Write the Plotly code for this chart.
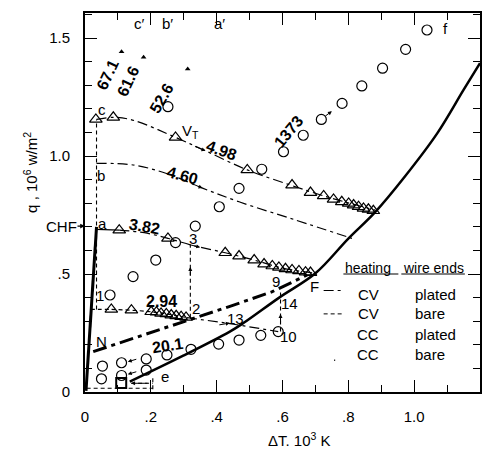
import plotly.graph_objects as go

# ---------------- data (x = dT in 10^3 K, q in 10^6 W/m^2) ----------------
circ_x = [0.537, 0.603, 0.663, 0.718, 0.781, 0.841, 0.904, 0.974, 1.039,
          0.146, 0.215, 0.275, 0.335, 0.408, 0.468, 0.252, 0.076,
          0.050, 0.053, 0.111, 0.111, 0.186, 0.186, 0.249, 0.322, 0.406,
          0.468, 0.534, 0.587]
circ_q = [0.944, 1.018, 1.088, 1.155, 1.223, 1.297, 1.372, 1.452, 1.534,
          0.489, 0.559, 0.633, 0.703, 0.785, 0.863, 1.209, 0.411,
          0.056, 0.110, 0.070, 0.124, 0.093, 0.140, 0.157, 0.181, 0.203,
          0.220, 0.240, 0.256]

tri_c_x = [0.033, 0.086, 0.275, 0.493, 0.629, 0.685, 0.725, 0.755, 0.780,
           0.801, 0.816, 0.831, 0.846, 0.861, 0.876]
tri_c_q = [1.155, 1.164, 1.079, 0.941, 0.877, 0.845, 0.831, 0.816, 0.806,
           0.799, 0.792, 0.785, 0.778, 0.774, 0.768]
tri_a_x = [0.104, 0.252, 0.426, 0.468, 0.514, 0.544, 0.569, 0.589, 0.609,
           0.629, 0.650, 0.670, 0.685]
tri_a_q = [0.686, 0.651, 0.590, 0.576, 0.559, 0.542, 0.534, 0.528, 0.522,
           0.517, 0.513, 0.508, 0.506]
tri_1_x = [0.080, 0.141, 0.201, 0.217, 0.231, 0.247, 0.262, 0.277, 0.292, 0.307]
tri_1_q = [0.350, 0.347, 0.340, 0.338, 0.333, 0.331, 0.326, 0.323, 0.319, 0.316]

small_tri_x = [0.111, 0.178, 0.312]
small_tri_q = [1.442, 1.418, 1.369]

curve_c_x = [0.035, 0.09, 0.15, 0.275, 0.366, 0.493, 0.624, 0.725, 0.881]
curve_c_q = [1.155, 1.164, 1.15, 1.079, 1.022, 0.941, 0.877, 0.831, 0.771]
curve_b_x = [0.035, 0.146, 0.25, 0.357, 0.468, 0.639, 0.811]
curve_b_q = [0.969, 0.962, 0.925, 0.864, 0.806, 0.729, 0.651]
curve_a_x = [0.104, 0.18, 0.252, 0.33, 0.426, 0.514, 0.6, 0.69]
curve_a_q = [0.686, 0.675, 0.651, 0.62, 0.590, 0.559, 0.525, 0.505]
seg_a_x = [0.035, 0.104]
seg_a_q = [0.689, 0.686]
curve_1_x = [0.017, 0.08, 0.2, 0.31]
curve_1_q = [0.350, 0.350, 0.340, 0.315]
curve_2_10_x = [0.31, 0.44, 0.587]
curve_2_10_q = [0.315, 0.29, 0.256]
nf_x = [0.025, 0.317, 0.438, 0.569, 0.675]
nf_q = [0.171, 0.305, 0.362, 0.425, 0.496]
film_x = [0.136, 0.30, 0.44, 0.48, 0.59, 0.70, 0.80, 0.88, 0.97, 1.07, 1.15, 1.2]
film_q = [0.044, 0.155, 0.256, 0.291, 0.40, 0.503, 0.65, 0.76, 0.91, 1.096, 1.28, 1.394]
wall_x = [0.003, 0.035]
wall_q = [0.005, 0.70]

vlines = [  # x, q0, q1
    (0.035, 0.35, 1.155),
    (0.32, 0.315, 0.625),
    (0.594, 0.256, 0.432),
    (0.206, 0.012, 0.068),
]
hlines = [  # q, x0, x1
    (0.016, 0.005, 0.206),
    (0.037, 0.14, 0.206),
]
box_x = [0.11]
box_q = [0.038]

FONT = "Liberation Sans, Arial, sans-serif"
K = "black"
fig = go.Figure()

def line(x, y, w=1.2, dash="solid", shape="linear"):
    fig.add_trace(go.Scatter(x=x, y=y, mode="lines", showlegend=False, hoverinfo="skip",
                             line=dict(color=K, width=w, dash=dash, shape=shape)))

CVP = "10px,4px,3px,4px"
DSH = "4px,3px"
line(curve_c_x, curve_c_q, 1.2, CVP, "spline")
line(curve_b_x, curve_b_q, 1.2, CVP, "spline")
line(curve_a_x, curve_a_q, 1.2, CVP, "spline")
line(seg_a_x, seg_a_q, 1.2)
line(curve_1_x, curve_1_q, 1.2, DSH, "spline")
line(curve_2_10_x, curve_2_10_q, 1.2, CVP)
line(nf_x, nf_q, 3, "14px,5px,4px,5px")
line(film_x, film_q, 2.5, "solid", "spline")
line(wall_x, wall_q, 3)
for vx, a, b in vlines:
    line([vx, vx], [a, b], 1.1, DSH)
for hq, a, b in hlines:
    line([a, b], [hq, hq], 1.1, DSH)

fig.add_trace(go.Scatter(x=circ_x, y=circ_q, mode="markers", showlegend=False,
                         marker=dict(symbol="circle-open", size=10, color=K, line=dict(width=1.2))))
for tx, tq in [(tri_c_x, tri_c_q), (tri_a_x, tri_a_q), (tri_1_x, tri_1_q)]:
    fig.add_trace(go.Scatter(x=tx, y=tq, mode="markers", showlegend=False,
                             marker=dict(symbol="triangle-up-open", size=11, color=K, line=dict(width=1.2))))
fig.add_trace(go.Scatter(x=small_tri_x, y=small_tri_q, mode="markers", showlegend=False,
                         marker=dict(symbol="triangle-up", size=5, color=K)))
fig.add_trace(go.Scatter(x=box_x, y=box_q, mode="markers", showlegend=False,
                         marker=dict(symbol="square-open", size=10, color=K, line=dict(width=2))))

ann = []
def txt(x, y, s, size=13, bold=False, angle=0, xanchor="center", ref="data"):
    d = dict(x=x, y=y, text=f"<b>{s}</b>" if bold else s, showarrow=False,
             textangle=angle, xanchor=xanchor,
             font=dict(family=FONT, size=size, color=K))
    if ref == "paper":
        d.update(xref="paper", yref="paper")
    ann.append(d)

for x, y, s in [(0.051, 1.195, "c"), (0.050, 0.919, "b"), (0.053, 0.715, "a"),
                (0.045, 0.411, "1"), (0.05, 0.213, "N"), (0.337, 0.355, "2"),
                (0.327, 0.651, "3"), (0.242, 0.065, "e"), (0.458, 0.312, "13"),
                (0.579, 0.467, "9"), (0.622, 0.376, "14"), (0.619, 0.237, "10"),
                (0.698, 0.446, "F"), (1.094, 1.542, "f"),
                (0.166, 1.56, "c\u2032"), (0.251, 1.56, "b\u2032"), (0.408, 1.56, "a\u2032"),
                (0.322, 1.103, "V<sub>T</sub>")]:
    txt(x, y, s, 15)

for x, y, s, a in [(0.067, 1.343, "67.1", -65), (0.131, 1.315, "61.6", -65),
                   (0.232, 1.244, "52.6", -60), (0.416, 1.025, "4.98", 20),
                   (0.297, 0.919, "4.60", 15), (0.181, 0.703, "3.82", 10),
                   (0.232, 0.383, "2.94", 0), (0.252, 0.199, "20.1", -8),
                   (0.619, 1.103, "1373", -50)]:
    txt(x, y, s, 16, True, a)

# small arrows
for x, y, ax, ay in [(0.366, 1.022, -12, -5), (0.357, 0.864, -12, -5),
                     (0.35, 0.613, -12, -3), (0.32, 0.53, 0, 10),
                     (0.44, 0.292, -12, 2), (0.594, 0.33, 0, 10),
                     (0.13, 0.128, 10, -3), (0.13, 0.075, 10, -3),
                     (0.75, 1.19, -8, 6), (0.14, 0.037, 18, 0)]:
    ann.append(dict(x=x, y=y, ax=ax, ay=ay, text="", showarrow=True, arrowhead=2,
                    arrowsize=0.8, arrowwidth=1, arrowcolor=K))
# CHF
txt(-0.06, 0.703 / 1.606, "CHF", 15, ref="paper")
ann.append(dict(x=0, y=0.703, ax=-9, ay=0, text="", showarrow=True, arrowhead=2,
                arrowsize=0.8, arrowwidth=1.2, arrowcolor=K))

# legend (manual table)
txt(0.785, 0.525, "heating", 14, xanchor="left")
txt(0.961, 0.525, "wire ends", 14, xanchor="left")
rows_q = [0.415, 0.331, 0.242, 0.157]
rows_a = ["CV", "CV", "CC", "CC"]
rows_b = ["plated", "bare", "plated", "bare"]
for q, a, b in zip(rows_q, rows_a, rows_b):
    txt(0.861, q, a, 15)
    txt(0.995, q, b, 15, xanchor="left")

shapes = [
    dict(type="line", xref="x", yref="y", x0=0.785, x1=0.952, y0=0.500, y1=0.500, line=dict(color=K, width=1.2)),
    dict(type="line", xref="x", yref="y", x0=0.961, x1=1.154, y0=0.500, y1=0.500, line=dict(color=K, width=1.2)),
    dict(type="line", xref="x", yref="y", x0=0.725, x1=0.785, y0=0.43, y1=0.43, line=dict(color=K, width=1.2, dash=CVP)),
    dict(type="line", xref="x", yref="y", x0=0.725, x1=0.785, y0=0.331, y1=0.331, line=dict(color=K, width=1, dash=DSH)),
    dict(type="line", xref="x", yref="y", x0=0.757, x1=0.760, y0=0.135, y1=0.135, line=dict(color=K, width=1.5)),
]

# axis titles
ann.append(dict(xref="paper", yref="paper", x=-0.14, y=0.58, textangle=-90, showarrow=False,
                xanchor="center", yanchor="middle",
                text="q , 10<sup>6</sup> w/m<sup>2</sup>", font=dict(family=FONT, size=15, color=K)))
ann.append(dict(xref="paper", yref="paper", x=0.542, y=-0.125, showarrow=False, yanchor="middle",
                text="\u0394T. 10<sup>3</sup> K", font=dict(family=FONT, size=15, color=K)))

axis_common = dict(showgrid=False, zeroline=False, showline=True, linecolor=K, linewidth=2,
                   mirror="ticks", ticks="inside", tickcolor=K, tickwidth=1.2, ticklen=12,
                   tickfont=dict(family=FONT, size=15, color=K), ticklabelstandoff=10)
fig.update_layout(
    width=490, height=451, margin=dict(l=85, r=8, t=13, b=59),
    paper_bgcolor="white", plot_bgcolor="white",
    xaxis=dict(range=[0, 1.2], tickvals=[0, 0.2, 0.4, 0.6, 0.8, 1.0, 1.2],
               ticktext=["0", ".2", ".4", ".6", ".8", "1.0", "1.2"],
               minor=dict(dtick=0.1, tick0=0, ticks="inside", ticklen=7, tickcolor=K, tickwidth=1.2),
               **axis_common),
    yaxis=dict(range=[0, 1.606], tickvals=[0, 0.5, 1.0, 1.5], ticktext=["0", ".5", "1.0", "1.5"],
               minor=dict(dtick=0.1, tick0=0, ticks="inside", ticklen=7, tickcolor=K, tickwidth=1.2),
               **axis_common),
    annotations=ann, shapes=shapes,
)
fig.write_html("out.html")
